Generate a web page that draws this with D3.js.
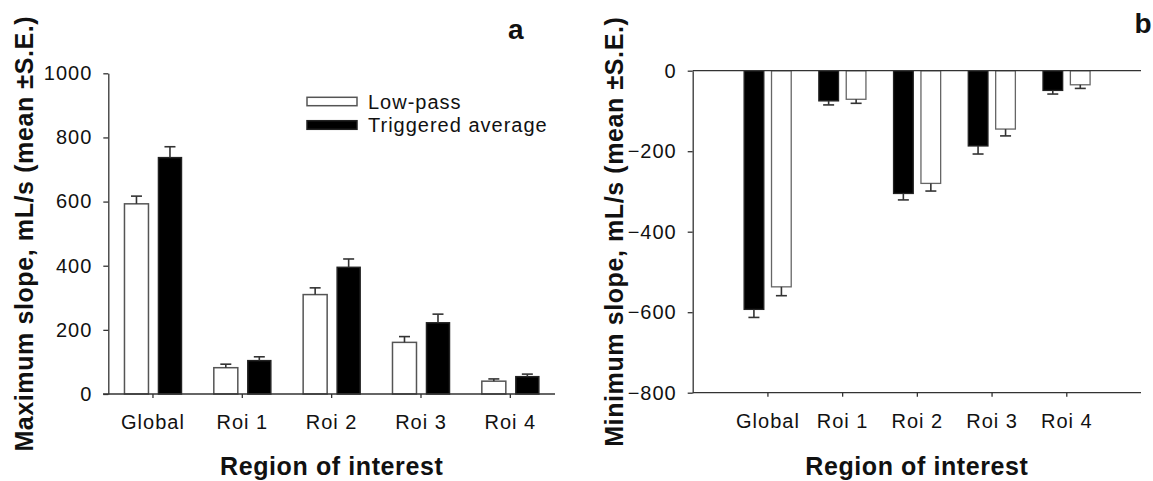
<!DOCTYPE html>
<html>
<head>
<meta charset="utf-8">
<script src="https://cdn.jsdelivr.net/npm/d3@7"></script>
<style>
  body { margin: 0; background: #fff; }
  text { font-family: "Liberation Sans", Arial, sans-serif; fill: #111; }
</style>
</head>
<body>
<div class="canva"></div>
<script>
// data
const categories = ["Global", "Roi 1", "Roi 2", "Roi 3", "Roi 4"]

const maxLowPass     = [593, 82, 310, 161, 40]
const maxLowPassSE   = [24, 11, 21, 18, 7]
const maxTriggered   = [737, 104, 395, 222, 54]
const maxTriggeredSE = [34, 12, 26, 27, 8]

const minTriggered   = [-593, -75, -305, -187, -49]
const minTriggeredSE = [20, 10, 16, 20, 9]
const minLowPass     = [-537, -71, -280, -145, -35]
const minLowPassSE   = [22, 10, 19, 17, 9]

const ticksA = [0, 200, 400, 600, 800, 1000]
const ticksB = [0, -200, -400, -600, -800]

const axisColor = "#333"
const titleY = 475

const svg = d3.select('.canva').append('svg')
    .attr('width', 1153)
    .attr('height', 481)

function styleTicks(g) {
    g.selectAll('.tick line').attr('stroke', axisColor).attr('stroke-width', 1.3)
    g.selectAll('.tick text')
        .attr('font-size', 20)
        .attr('letter-spacing', 1)
        .style('fill', '#111')
}

function errorBar(g, cx, y0, y1) {
    g.append('line').attr('x1', cx).attr('x2', cx).attr('y1', y0).attr('y2', y1)
        .attr('stroke', axisColor).attr('stroke-width', 1.6)
    g.append('line').attr('x1', cx - 5.5).attr('x2', cx + 5.5).attr('y1', y1).attr('y2', y1)
        .attr('stroke', axisColor).attr('stroke-width', 1.6)
}

// ---------- panel a : maximum slope ----------
function renderA() {
    const x = d3.scaleBand().domain(categories).range([108.3, 555]).padding(0)
    const y = d3.scaleLinear().domain([0, 1000]).range([394, 73.3])
    const g = svg.append('g')

    const rows = categories.map((c, i) => ({
        cat: c, lp: maxLowPass[i], lpSE: maxLowPassSE[i],
        ta: maxTriggered[i], taSE: maxTriggeredSE[i]
    }))

    rows.forEach(d => {
        const c = x(d.cat) + x.bandwidth() / 2
        g.append('rect')
            .attr('x', c - 28.5).attr('width', 24)
            .attr('y', y(d.lp)).attr('height', y(0) - y(d.lp))
            .attr('fill', '#fff').attr('stroke', '#555').attr('stroke-width', 1.5)
        errorBar(g, c - 16.5, y(d.lp), y(d.lp + d.lpSE))

        g.append('rect')
            .attr('x', c + 5.5).attr('width', 23)
            .attr('y', y(d.ta)).attr('height', y(0) - y(d.ta))
            .attr('fill', '#000').attr('stroke', '#222').attr('stroke-width', 1.5)
        errorBar(g, c + 17, y(d.ta), y(d.ta + d.taSE))
    })

    // y axis
    const ya = g.append('g').attr('transform', 'translate(108.3,0)')
        .call(d3.axisLeft(y).tickValues(ticksA).tickSize(5).tickSizeOuter(0).tickPadding(11)
            .tickFormat(d3.format('d')))
    ya.select('.domain').attr('stroke', axisColor).attr('stroke-width', 1.3)
    styleTicks(ya)

    // x axis
    g.append('line').attr('x1', 103).attr('x2', 555).attr('y1', y(0)).attr('y2', y(0))
        .attr('stroke', axisColor).attr('stroke-width', 1.3)
    const xa = g.append('g').attr('transform', `translate(0,${y(0)})`)
        .call(d3.axisBottom(x).tickSize(4).tickSizeOuter(0).tickPadding(17))
    xa.select('.domain').remove()
    styleTicks(xa)

    // legend
    g.append('rect').attr('x', 307).attr('y', 97.3).attr('width', 50).attr('height', 8.4)
        .attr('fill', '#fff').attr('stroke', '#555').attr('stroke-width', 1.5)
    g.append('rect').attr('x', 307).attr('y', 120.7).attr('width', 50).attr('height', 8.6)
        .attr('fill', '#000').attr('stroke', '#222').attr('stroke-width', 1.5)
    g.append('text').attr('x', 368).attr('y', 109.3).attr('font-size', 20)
        .attr('letter-spacing', 1).text('Low-pass')
    g.append('text').attr('x', 368).attr('y', 132.3).attr('font-size', 20)
        .attr('letter-spacing', 1).text('Triggered average')

    // titles
    g.append('text').attr('x', 331.7).attr('y', titleY).attr('text-anchor', 'middle')
        .attr('font-size', 25).attr('font-weight', 'bold').attr('letter-spacing', 0.6)
        .text('Region of interest')
    g.append('text').attr('transform', 'translate(32.5,233.7) rotate(-90)')
        .attr('text-anchor', 'middle')
        .attr('font-size', 25).attr('font-weight', 'bold').attr('letter-spacing', 0.6)
        .text('Maximum slope, mL/s (mean ±S.E.)')
    g.append('text').attr('x', 508).attr('y', 39).attr('font-size', 28)
        .attr('font-weight', 'bold').text('a')
}

// ---------- panel b : minimum slope ----------
function renderB() {
    const x = d3.scalePoint().domain(categories).range([692.7, 1141]).padding(1)
    const y = d3.scaleLinear().domain([-800, 0]).range([392.7, 70.7])
    const g = svg.append('g')

    const rows = categories.map((c, i) => ({
        cat: c, ta: minTriggered[i], taSE: minTriggeredSE[i],
        lp: minLowPass[i], lpSE: minLowPassSE[i]
    }))

    rows.forEach(d => {
        const c = x(d.cat)
        g.append('rect')
            .attr('x', c - 23.3).attr('width', 19.7)
            .attr('y', y(0)).attr('height', y(d.ta) - y(0))
            .attr('fill', '#000').attr('stroke', '#222').attr('stroke-width', 1.3)
        errorBar(g, c - 13.5, y(d.ta), y(d.ta - d.taSE))

        g.append('rect')
            .attr('x', c + 4.1).attr('width', 19.7)
            .attr('y', y(0)).attr('height', y(d.lp) - y(0))
            .attr('fill', '#fff').attr('stroke', '#666').attr('stroke-width', 1.3)
        errorBar(g, c + 14, y(d.lp), y(d.lp - d.lpSE))
    })

    // zero line at top
    g.append('line').attr('x1', 692.7).attr('x2', 1141).attr('y1', y(0)).attr('y2', y(0))
        .attr('stroke', axisColor).attr('stroke-width', 1.3)

    const ya = g.append('g').attr('transform', 'translate(692.7,0)')
        .call(d3.axisLeft(y).tickValues(ticksB).tickSize(5).tickSizeOuter(0).tickPadding(11)
            .tickFormat(d3.format('d')))
    ya.select('.domain').attr('stroke', axisColor).attr('stroke-width', 1.3)
    styleTicks(ya)

    g.append('line').attr('x1', 692.7).attr('x2', 1141).attr('y1', y(-800)).attr('y2', y(-800))
        .attr('stroke', axisColor).attr('stroke-width', 1.3)
    const xa = g.append('g').attr('transform', `translate(0,${y(-800)})`)
        .call(d3.axisBottom(x).tickSize(4).tickSizeOuter(0).tickPadding(17))
    xa.select('.domain').remove()
    styleTicks(xa)

    g.append('text').attr('x', 916.9).attr('y', titleY).attr('text-anchor', 'middle')
        .attr('font-size', 25).attr('font-weight', 'bold').attr('letter-spacing', 0.6)
        .text('Region of interest')
    g.append('text').attr('transform', 'translate(623,231.7) rotate(-90)')
        .attr('text-anchor', 'middle')
        .attr('font-size', 25).attr('font-weight', 'bold').attr('letter-spacing', 0.6)
        .text('Minimum slope, mL/s (mean ±S.E.)')
    g.append('text').attr('x', 1134.5).attr('y', 33.3).attr('font-size', 28)
        .attr('font-weight', 'bold').text('b')
}

renderA()
renderB()
</script>
</body>
</html>
